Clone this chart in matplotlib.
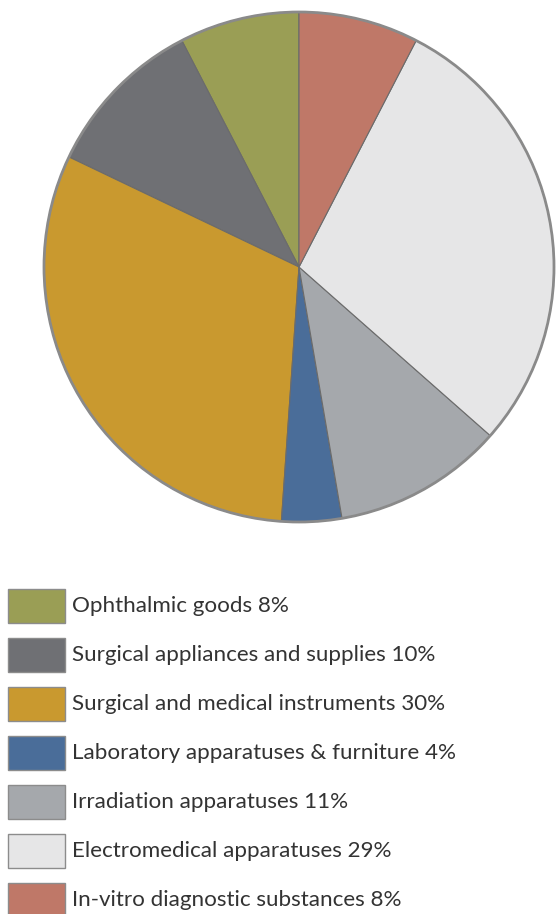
import matplotlib
matplotlib.use("Agg")
import matplotlib.pyplot as plt
from matplotlib.patches import Rectangle

labels = ["Ophthalmic goods", "Surgical appliances and supplies",
          "Surgical and medical instruments", "Laboratory apparatuses & furniture",
          "Irradiation apparatuses", "Electromedical apparatuses",
          "In-vitro diagnostic substances"]
# percentages printed in the legend
values = [8, 10, 30, 4, 11, 29, 8]
# slice sizes as drawn in the picture (slightly different from rounded labels)
slice_shares = [7.6, 10.3, 31.0, 3.8, 10.8, 28.9, 7.6]
colors = ["#9a9e55", "#6f7074", "#c9992f", "#4a6d99", "#a5a8ac", "#e6e6e7", "#bf7868"]

W, H = 556, 914
fig = plt.figure(figsize=(W / 100, H / 100), dpi=100)
ax = fig.add_axes([0, 0, 1, 1])

cx, cy, r = 299, H - 267, 255
ax.pie(slice_shares, colors=colors, startangle=90, counterclock=True,
       center=(cx, cy), radius=r, frame=True,
       wedgeprops=dict(edgecolor="#6b6b6b", linewidth=0.8))
ax.add_patch(plt.Circle((cx, cy), r, fill=False, edgecolor="#8a8a8a", linewidth=2))
ax.set_xlim(0, W)
ax.set_ylim(0, H)
ax.set_aspect("equal")
ax.axis("off")

for i, (lab, v, c) in enumerate(zip(labels, values, colors)):
    top = 589 + i * 49
    ax.add_patch(Rectangle((8, H - top - 34), 57, 34, facecolor=c,
                           edgecolor="#8c8c8c", linewidth=1))
    ax.text(72, H - top - 17, f"{lab} {v}%", fontsize=16.1, family="Lato",
            color="#333333", va="center", ha="left")

fig.savefig("out.png", dpi=100)
